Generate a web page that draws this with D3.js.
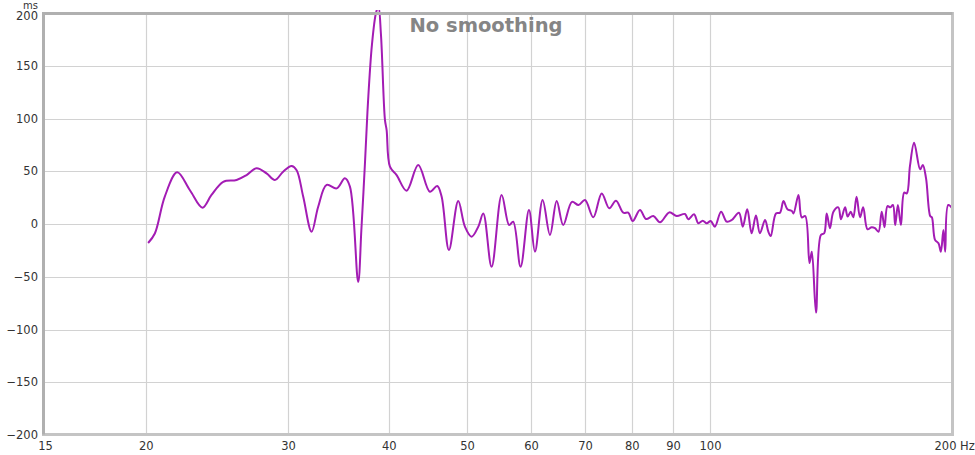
<!DOCTYPE html>
<meta charset="utf-8">
<head>
<style>
  body { margin: 0; background: #fff; }
  .tick text { font-family: "DejaVu Sans", sans-serif; font-size: 11.5px; fill: #333; }
  .grid line { stroke: #d2d2d2; stroke-width: 1.2px; }
  .title { font-family: "DejaVu Sans", sans-serif; font-weight: bold; font-size: 19.5px; fill: #858585; }
</style>
</head>
<body>
<div id="graph"></div>
<script src="https://d3js.org/d3.v7.min.js"></script>
<script>

// group delay (Hz -> ms)
var freq = [
  20.13, 20.52, 21.11, 21.87, 22.68, 23.51, 24.12, 24.94, 25.91, 26.66,
  27.43, 28.22, 28.90, 29.59, 30.31, 30.75, 31.33, 32.09, 32.70, 33.50,
  34.47, 35.29, 35.80, 36.65, 36.99, 37.37, 37.69, 38.12, 38.56, 38.83,
  39.11, 39.56, 39.75, 40.13, 40.90, 42.08, 43.50, 44.97, 45.92, 46.50,
  47.48, 48.76, 49.70, 50.66, 51.63, 52.37, 53.63, 55.19, 56.38, 57.03,
  58.25, 59.66, 60.69, 62.03, 63.35, 64.57, 65.79, 67.44, 68.72, 70.00,
  71.68, 73.42, 75.02, 76.47, 78.08, 79.20, 80.21, 81.89, 83.31, 85.06,
  86.70, 89.03, 90.93, 93.11, 93.99, 95.54, 96.72, 97.94, 99.06, 100.2,
  101.4, 103.2, 104.9, 106.4, 108.6, 109.8, 111.2, 112.6, 114.0, 115.3,
  117.0, 118.1, 118.9, 120.7, 122.1, 123.3, 124.7, 126.3, 126.9, 128.7,
  129.9, 131.2, 132.8, 133.7, 135.3, 137.2, 138.5, 139.5, 140.8, 142.2,
  144.2, 145.3, 147.0, 148.1, 149.4, 150.5, 151.9, 153.4, 154.8, 156.7,
  158.6, 160.1, 161.7, 163.2, 164.5, 165.9, 167.2, 168.5, 169.6, 170.9,
  172.4, 174.0, 175.3, 176.9, 179.0, 182.1, 183.5, 185.2, 187.4, 188.3,
  190.0, 191.9, 193.2, 194.6, 195.6, 197.3, 200.0
];
var delay = [
  -18, -9, 26, 49, 32, 15.5, 27.5, 40, 41.7, 46.4,
  52.8, 48, 41.7, 49.6, 55, 51, 26, -7.3, 16.4, 37,
  33.8, 43.3, 35.4, -55, -5, 58, 115, 170, 200, 206,
  180, 98.6, 89, 54.3, 46.4, 31.6, 56, 30.6, 36, 26,
  -24.6, 21.8, -2.5, -12, -2.5, 10, -40.5, 27.5, -1, 2.2,
  -40.5, 13.3, -26.2, 22.7, -10.4, 21.8, -1, 21, 18, 22.7,
  6.3, 29, 14.9, 22, 10.7, 10.7, 2.8, 13.3, 4.7, 7.6,
  1.6, 11, 7.6, 9.5, 4.5, 9.2, 0.7, 3.1, 0.7, 2.8,
  -2.5, 11.7, 2.2, 3.8, 10.7, -2.5, 14, -8.8, 8, -8.8,
  3.8, -7.3, -11.4, 10, 10.7, 21.8, 14, 12.3, 10, 27.5,
  6.3, 7.6, -37, -26.2, -84, -10.4, -8.8, 10, -4, 11.7,
  15.8, 4.5, 15.8, 7, 11.7, 6.3, 25.9, 6.3, 15.8, -5,
  -3, -4, -7.3, 11.7, -3, 17, 15.8, 18, -1, 18,
  -1, 29.7, 29, 55, 77, 51.8, 56, 43.3, 7.6, 6.3,
  -15, -18.3, -26.2, -5.7, -26.2, 18, 14
];

var xTicks = [15, 20, 30, 40, 50, 60, 70, 80, 90, 100, 200];
var yTicks = [-200, -150, -100, -50, 0, 50, 100, 150, 200];

var width = 975, height = 455;

var svg = d3.select("#graph").append("svg")
  .attr("width", width)
  .attr("height", height);

var x = d3.scaleLog().domain([15, 200]).range([45, 953]);
var y = d3.scaleLinear().domain([-200, 200]).range([435, 13]);

// grid
var grid = svg.append("g").attr("class", "grid");
grid.selectAll(".gx").data(xTicks.slice(1, -1)).enter().append("line")
  .attr("x1", function(d){ return Math.round(x(d)) + 0.5; })
  .attr("x2", function(d){ return Math.round(x(d)) + 0.5; })
  .attr("y1", y(200)).attr("y2", y(-200));
grid.selectAll(".gy").data(yTicks.slice(1, -1)).enter().append("line")
  .attr("x1", x(15)).attr("x2", x(200))
  .attr("y1", function(d){ return Math.round(y(d)) + 0.5; })
  .attr("y2", function(d){ return Math.round(y(d)) + 0.5; });

// axes (labels only)
var yAxis = d3.axisLeft(y).tickValues(yTicks).tickSize(0).tickPadding(5);
var gy = svg.append("g").attr("transform", "translate(43,0)").call(yAxis);
gy.select(".domain").remove();
gy.selectAll(".tick").filter(function(d){ return d == 200; })
  .select("text").attr("dy", "0.6em");

var xAxis = d3.axisBottom(x).tickValues(xTicks).tickSize(0).tickPadding(5)
  .tickFormat(function(d){ return d; });
var gx = svg.append("g").attr("transform", "translate(0,437)").call(xAxis);
gx.select(".domain").remove();
gx.selectAll(".tick").filter(function(d){ return d == 200; })
  .select("text").attr("text-anchor", "start").attr("dx", "-19").text("200 Hz");

svg.append("text")
  .attr("x", 38).attr("y", 9)
  .attr("text-anchor", "end")
  .style("font-family", "DejaVu Sans, sans-serif")
  .style("font-size", "10px")
  .style("fill", "#333")
  .text("ms");

// curve
svg.append("clipPath").attr("id", "clip")
  .append("rect").attr("x", 43).attr("y", 10).attr("width", 912).attr("height", 427);

var data = freq.map(function(f, i){ return [f, delay[i]]; });

var line = d3.line()
  .x(function(d){ return x(d[0]); })
  .y(function(d){ return y(d[1]); })
  .curve(d3.curveCatmullRom.alpha(0.5));

svg.append("path")
  .datum(data)
  .attr("clip-path", "url(#clip)")
  .attr("fill", "none")
  .attr("stroke", "#a31cb4")
  .attr("stroke-width", 2)
  .attr("stroke-linejoin", "round")
  .attr("d", line);

// frame: darker on left/top like the original
svg.append("rect")
  .attr("x", 43.5).attr("y", 13.5)
  .attr("width", 909).attr("height", 421)
  .attr("fill", "none")
  .attr("stroke", "#c4c4c4")
  .attr("stroke-width", 3);
svg.append("path")
  .attr("d", "M43.5,434.5V13.5H952.5")
  .attr("fill", "none")
  .attr("stroke", "#b0b0b0")
  .attr("stroke-width", 3);

svg.append("text")
  .attr("class", "title")
  .attr("x", 486).attr("y", 32)
  .attr("text-anchor", "middle")
  .text("No smoothing");

</script>
</body>
</html>
